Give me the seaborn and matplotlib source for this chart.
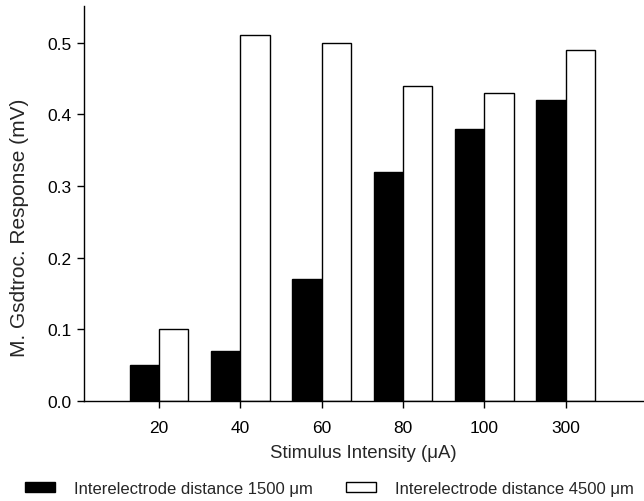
import matplotlib
matplotlib.use("Agg")
import matplotlib.pyplot as plt
import seaborn as sns
import pandas as pd
from matplotlib.patches import Patch

categories = ["20", "40", "60", "80", "100", "300"]
series_names = ["Interelectrode distance 1500 \u03bcm", "Interelectrode distance 4500 \u03bcm"]
vals_1500 = [0.05, 0.07, 0.17, 0.32, 0.38, 0.42]
vals_4500 = [0.10, 0.51, 0.50, 0.44, 0.43, 0.49]
yticks = [0.0, 0.1, 0.2, 0.3, 0.4, 0.5]

df = pd.DataFrame({
    "Stimulus": categories * 2,
    "Response": vals_1500 + vals_4500,
    "Series": [series_names[0]] * len(categories) + [series_names[1]] * len(categories),
})

sns.set_theme(style="ticks")
plt.rcParams["font.family"] = ["Liberation Sans", "DejaVu Sans"]

fig = plt.figure(figsize=(6.44, 5.02), dpi=100)
ax = fig.add_axes([84/644, 100/502, (643-84)/644, (402-7)/502])

sns.barplot(data=df, x="Stimulus", y="Response", hue="Series", order=categories,
            hue_order=series_names, palette=["black", "white"], edgecolor="black",
            linewidth=1.0, width=0.72, saturation=1, ax=ax, legend=False)

ax.set_xlim(-0.92, 5.95)
ax.set_ylim(0, 0.551)
ax.set_yticks(yticks)
ax.set_yticklabels([f"{t:.1f}" for t in yticks])
ax.set_xlabel("Stimulus Intensity (\u03bcA)", fontsize=13.4, labelpad=6)
ax.set_ylabel("M. Gsdtroc. Response (mV)", fontsize=15)
ax.yaxis.set_label_coords((29 - 84) / 559, (402 - 228) / 395)
ax.tick_params(axis="both", labelsize=12.5, direction="out", length=5, width=1, colors="black")
ax.tick_params(axis="x", pad=9)
ax.tick_params(axis="y", pad=4)
for s in ["top", "right"]:
    ax.spines[s].set_visible(False)
for s in ["left", "bottom"]:
    ax.spines[s].set_linewidth(1.0)
    ax.spines[s].set_color("black")

handles = [Patch(facecolor="black", edgecolor="black", linewidth=1.0),
           Patch(facecolor="white", edgecolor="black", linewidth=1.0)]
fig.legend(handles, series_names, loc="lower left", bbox_to_anchor=(25/644, 5/502),
           ncol=2, frameon=False, fontsize=12.0, handlelength=1.8, handleheight=0.54,
           handletextpad=1.14, columnspacing=2.0, borderpad=0, borderaxespad=0)

fig.savefig("out.png", dpi=100)
